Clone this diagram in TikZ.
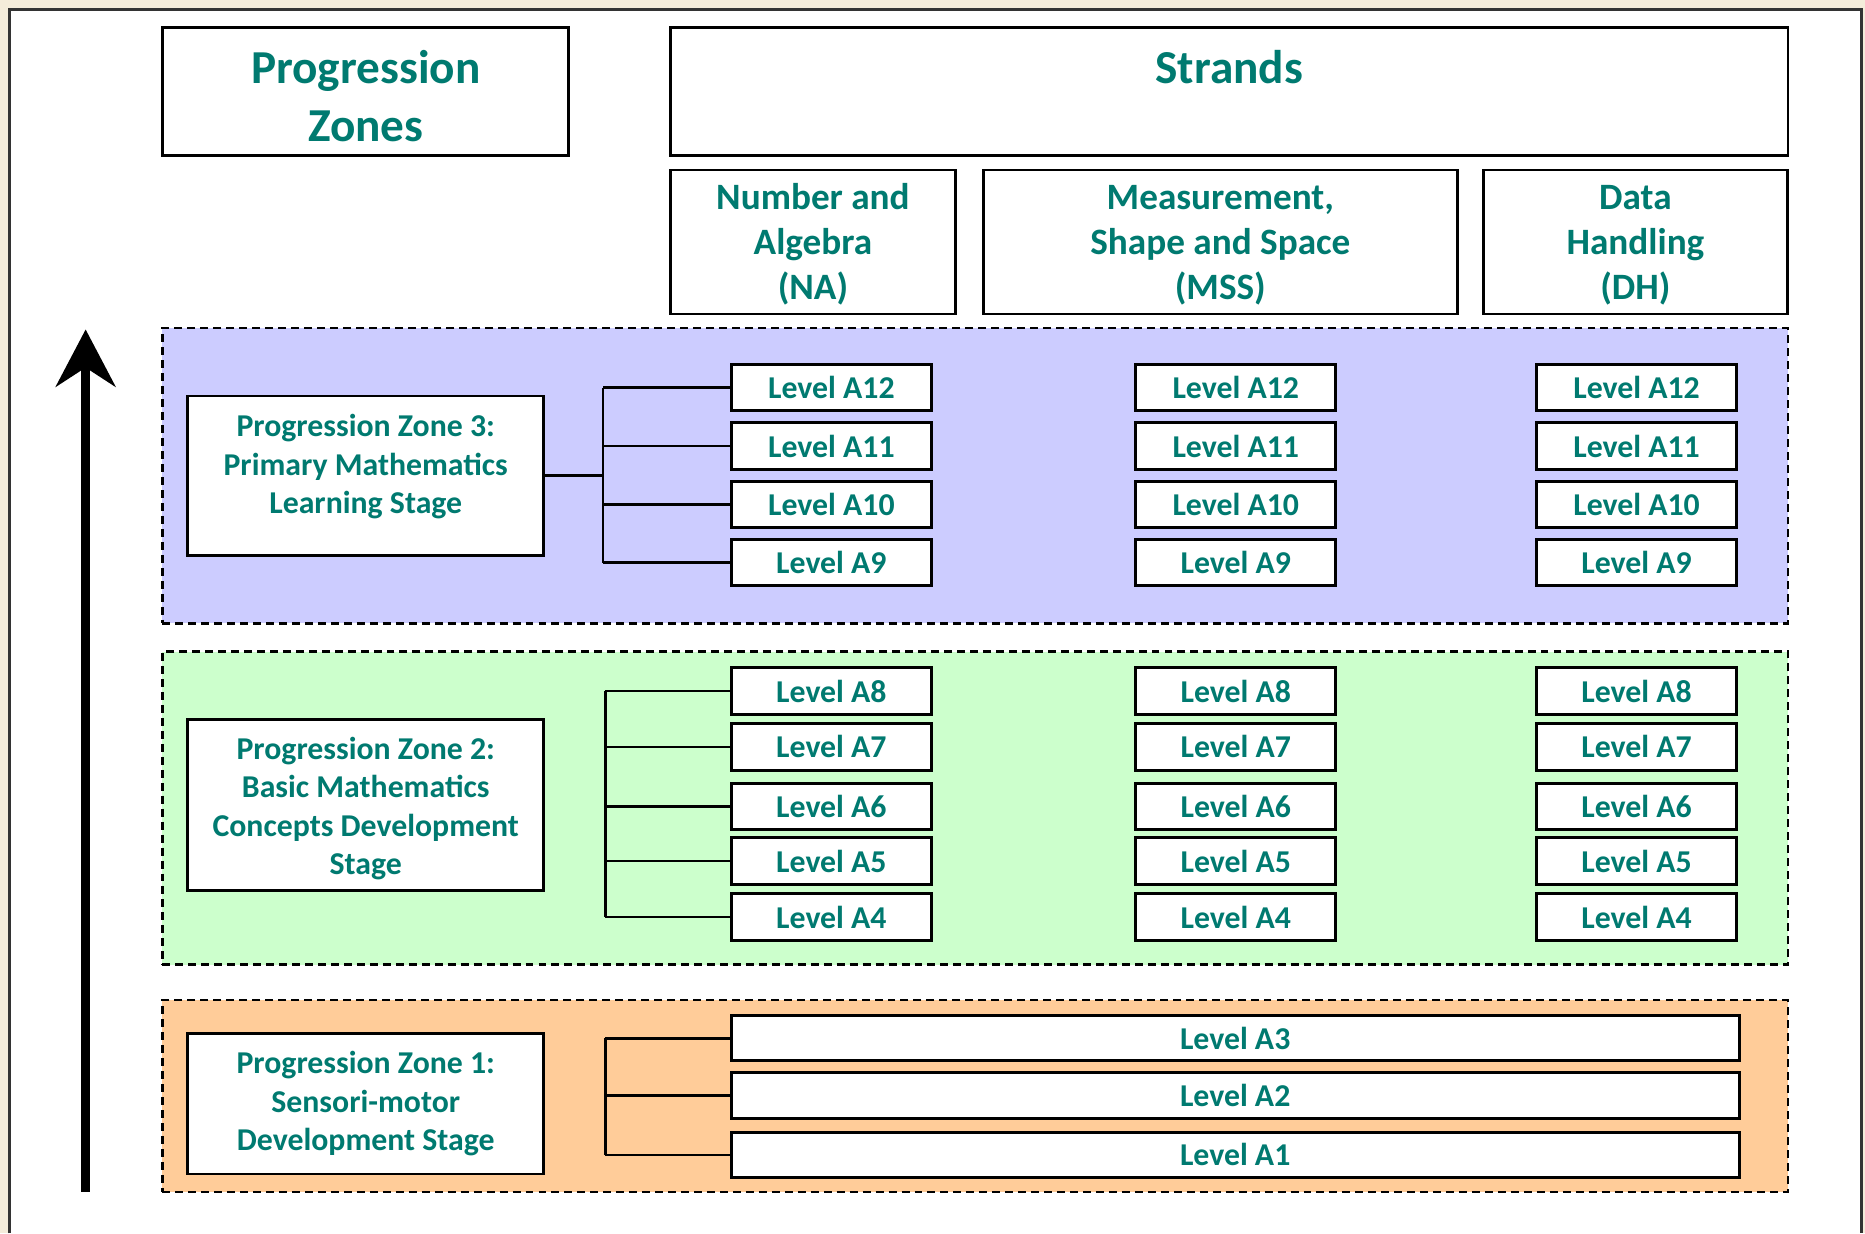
\documentclass[tikz,border=0pt]{standalone}
\usepackage{fontspec}
\setmainfont{Carlito}
\usetikzlibrary{arrows.meta}
\definecolor{tealtxt}{RGB}{0,122,112}
\definecolor{beigebg}{RGB}{244,236,218}
\definecolor{zblue}{RGB}{204,204,255}
\definecolor{zgreen}{RGB}{204,255,204}
\definecolor{zorange}{RGB}{255,204,153}
\newcommand{\shiftlines}[2]{\raisebox{#1}[\height][\depth]{\begin{tabular}{@{}c@{}}#2\end{tabular}}}
\tikzset{
  boxbase/.style={draw=black, line width=0.7pt, fill=white, text=tealtxt, align=center, inner sep=0pt, font=\bfseries},
  titlebox/.style={boxbase, font=\bfseries\fontsize{11.3}{13.7}\selectfont, minimum height=1.08cm},
  strandbox/.style={boxbase, font=\bfseries\fontsize{8.9}{10.8}\selectfont, minimum height=1.21cm},
  zonelab/.style={boxbase, font=\bfseries\fontsize{7.6}{9.2}\selectfont, minimum width=2.99cm},
  lvl/.style={boxbase, font=\bfseries\fontsize{7.6}{9}\selectfont, minimum width=1.68cm, minimum height=0.39cm},
  wlvl/.style={lvl, minimum width=8.47cm, minimum height=0.38cm},
  zonebg/.style={draw=black, line width=0.6pt, dash pattern=on 1.9pt off 1.2pt, minimum width=13.66cm, inner sep=0pt},
  conn/.style={draw=black, line width=0.6pt},
}
\begin{document}
\begin{tikzpicture}[x=0.01cm, y=-0.01cm]
\useasboundingbox (0,0) rectangle (1568,1037);
\fill[beigebg] (0,0) rectangle (1568,1037);
\fill[white] (8,8) rectangle (1565,1037);
\draw[black!80, line width=0.6pt] (8,1037) -- (8,8) -- (1565,8) -- (1565,1037);

% headers
\node[titlebox, minimum width=3.41cm] (pz) at (307.5,77) {\shiftlines{-0.08cm}{Progression\\Zones}};
\node[titlebox, minimum width=9.39cm] (str) at (1033.5,77) {\shiftlines{-0.08cm}{Strands\\~}};
\node[strandbox, minimum width=2.39cm] (na) at (683.5,203.5) {\shiftlines{-0.03cm}{Number and\\Algebra\\(NA)}};
\node[strandbox, minimum width=3.98cm] (mss) at (1026,203.5) {\shiftlines{-0.03cm}{Measurement,\\Shape and Space\\(MSS)}};
\node[strandbox, minimum width=2.56cm] (dh) at (1375,203.5) {\shiftlines{-0.03cm}{Data\\Handling\\(DH)}};

% zone backgrounds
\node[zonebg, fill=zblue, minimum height=2.48cm] (zone3) at (820,400) {};
\node[zonebg, fill=zgreen, minimum height=2.63cm] (zone2) at (820,679.5) {};
\node[zonebg, fill=zorange, minimum height=1.61cm] (zone1) at (820,921.5) {};

% progression arrow
\coordinate (abot) at (72,1002);
\coordinate (atop) at (72,277);
\draw[line width=2.2pt, -{Stealth[length=0.48cm, width=0.5cm, inset=0.16cm]}] (abot) -- (atop);

% zone labels
\node[zonelab, minimum height=1.34cm] (z3) at (307.5,400) {\shiftlines{0.07cm}{Progression Zone 3:\\Primary Mathematics\\Learning Stage}};
\node[zonelab, minimum height=1.44cm] (z2) at (307.5,677) {\shiftlines{-0.035cm}{Progression Zone 2:\\Basic Mathematics\\Concepts Development\\Stage}};
\node[zonelab, minimum height=1.18cm] (z1) at (307.5,928) {Progression Zone 1:\\Sensori-motor\\Development Stage};

% zone 3 levels
\coordinate (b3) at (507,400);
\draw[conn] (z3.east) -- (b3);
\foreach \lv/\yy in {12/326,11/375,10/424,9/473} {
  \node[lvl] (na\lv) at (699,\yy) {Level A\lv};
  \node[lvl] (ms\lv) at (1039,\yy) {Level A\lv};
  \node[lvl] (dh\lv) at (1376,\yy) {Level A\lv};
  \draw[conn] (b3 |- na\lv.west) -- (na\lv.west);
}
\draw[conn] (b3 |- na12.west) -- (b3 |- na9.west);

% zone 2 levels
\coordinate (b2) at (509,677);
\foreach \lv/\yy in {8/581,7/628,6/678,5/724,4/771} {
  \node[lvl] (na\lv) at (699,\yy) {Level A\lv};
  \node[lvl] (ms\lv) at (1039,\yy) {Level A\lv};
  \node[lvl] (dh\lv) at (1376,\yy) {Level A\lv};
  \draw[conn] (b2 |- na\lv.west) -- (na\lv.west);
}
\draw[conn] (b2 |- na8.west) -- (b2 |- na4.west);

% zone 1 levels
\coordinate (b1) at (509,921);
\foreach \lv/\yy in {3/873,2/921,1/971} {
  \node[wlvl] (all\lv) at (1038.5,\yy) {Level A\lv};
  \draw[conn] (b1 |- all\lv.west) -- (all\lv.west);
}
\draw[conn] (b1 |- all3.west) -- (b1 |- all1.west);
\end{tikzpicture}
\end{document}
